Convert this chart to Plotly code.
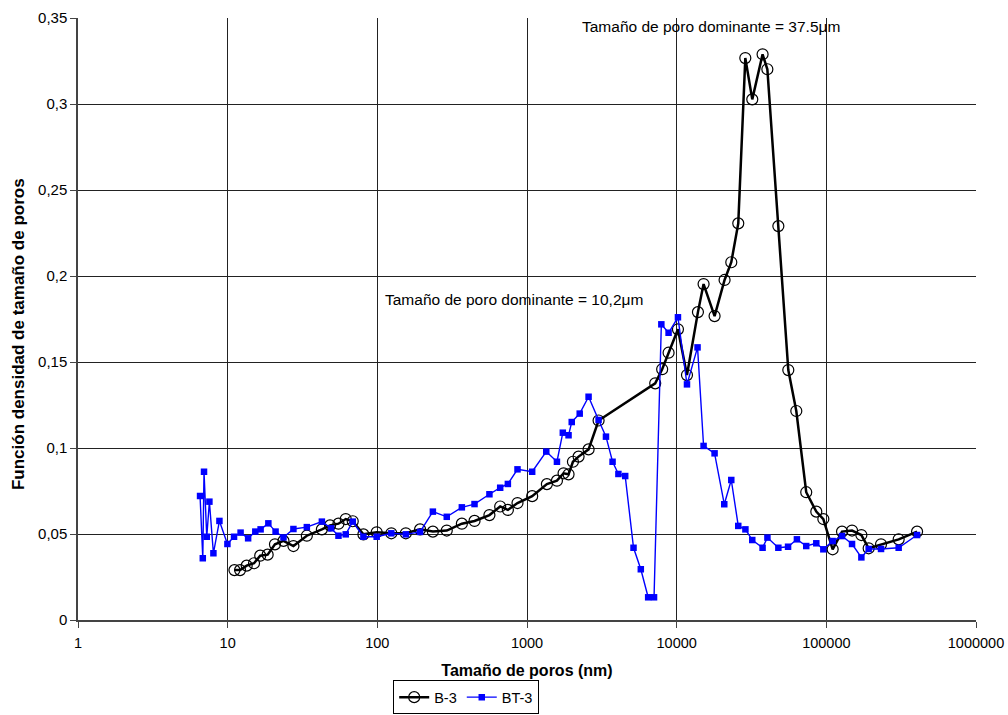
import plotly.graph_objects as go

# Pore size distribution: density function vs pore size (nm), log scale
b3_size_nm = [11.1, 12.1, 13.4, 15.0, 16.5, 18.5, 20.7, 23.6, 27.5, 33.8, 42.6, 48.3, 55.0,
              61.5, 68.5, 80.7, 99, 124, 155, 193, 235, 291, 367, 446, 561, 662, 745, 864,
              1083, 1358, 1585, 1755, 1895, 2027, 2211, 2579, 3008, 7190, 8000, 8830, 10200,
              11720, 13870, 15130, 17920, 20900, 23170, 25800, 28750, 32000, 37500, 40360,
              47800, 55700, 63000, 73400, 85700, 95500, 110200, 127300, 148500, 171400,
              191800, 232000, 304300, 403900]
b3_density = [0.029, 0.029, 0.0316, 0.033, 0.0374, 0.038, 0.044, 0.046, 0.043, 0.049, 0.0527,
              0.055, 0.056, 0.0587, 0.0574, 0.0498, 0.051, 0.0504, 0.0504, 0.0527, 0.0514,
              0.052, 0.056, 0.0576, 0.061, 0.066, 0.064, 0.068, 0.072, 0.079, 0.081, 0.0853,
              0.0847, 0.092, 0.095, 0.0992, 0.116, 0.1376, 0.1458, 0.1554, 0.169, 0.1424,
              0.179, 0.1953, 0.1767, 0.1977, 0.208, 0.2306, 0.3267, 0.3027, 0.3289, 0.3202,
              0.229, 0.1453, 0.1215, 0.0743, 0.063, 0.0587, 0.0411, 0.0514, 0.052, 0.0494,
              0.0417, 0.044, 0.0469, 0.0514]

bt3_size_nm = [6.54, 6.82, 6.95, 7.25, 7.55, 8.03, 8.81, 9.96, 11.03, 12.2, 13.7, 15.3, 16.6,
               18.7, 20.9, 23.6, 27.5, 33.8, 42.6, 49.1, 55.0, 61.5, 68.5, 80.7, 99, 124, 155,
               193, 235, 291, 367, 446, 561, 662, 745, 864, 1083, 1345, 1585, 1735, 1895,
               1990, 2250, 2579, 3008, 3370, 3730, 4080, 4530, 5150, 5760, 6450, 7060, 7900,
               8830, 10200, 11720, 13790, 15130, 17920, 20800, 23170, 25800, 28800, 32000,
               37500, 40400, 47800, 55500, 63600, 73400, 85700, 95500, 110200, 127300,
               148500, 171400, 191800, 232000, 304300, 403900]
bt3_density = [0.0721, 0.0359, 0.0862, 0.0484, 0.0688, 0.0388, 0.0576, 0.0442, 0.0484, 0.0508,
               0.0475, 0.0514, 0.0527, 0.0562, 0.0514, 0.048, 0.0529, 0.054, 0.0572, 0.0533,
               0.049, 0.0498, 0.0572, 0.0484, 0.0484, 0.0504, 0.0498, 0.0512, 0.063, 0.060,
               0.0655, 0.0674, 0.0731, 0.0769, 0.0791, 0.0876, 0.0862, 0.0979, 0.092, 0.1089,
               0.1074, 0.1151, 0.12, 0.1298, 0.1163, 0.1066, 0.092, 0.0849, 0.0837, 0.042,
               0.0295, 0.0132, 0.0132, 0.1719, 0.167, 0.176, 0.137, 0.1585, 0.1012, 0.0969,
               0.0673, 0.0814, 0.0547, 0.0527, 0.0465, 0.042, 0.0479, 0.042, 0.0426, 0.0469,
               0.043, 0.0446, 0.0411, 0.0459, 0.0488, 0.0442, 0.0364, 0.0413, 0.0413, 0.042,
               0.0494]

x_tick_vals = [1, 10, 100, 1000, 10000, 100000, 1000000]
x_tick_text = ["1", "10", "100", "1000", "10000", "100000", "1000000"]
y_tick_vals = [0, 0.05, 0.1, 0.15, 0.2, 0.25, 0.3, 0.35]
y_tick_text = ["0", "0,05", "0,1", "0,15", "0,2", "0,25", "0,3", "0,35"]

FONT = "Liberation Sans, Arial, sans-serif"

fig = go.Figure()
fig.add_trace(go.Scatter(
    x=b3_size_nm, y=b3_density, name="B-3", mode="lines+markers",
    line=dict(color="black", width=2.5),
    marker=dict(symbol="circle-open", size=11, color="black", line=dict(width=1.2)),
))
fig.add_trace(go.Scatter(
    x=bt3_size_nm, y=bt3_density, name="BT-3", mode="lines+markers",
    line=dict(color="#0000FF", width=1.4),
    marker=dict(symbol="square", size=6.5, color="#0000FF"),
))

# dominant pore size notes
fig.add_annotation(x=3.356, y=0.3448, xref="x", yref="y", xanchor="left", yanchor="middle",
                   text="Tamaño de poro dominante = 37.5μm", showarrow=False,
                   font=dict(family=FONT, size=15.5, color="black"))
fig.add_annotation(x=2.039, y=0.1866, xref="x", yref="y", xanchor="left", yanchor="middle",
                   text="Tamaño de poro dominante = 10,2μm", showarrow=False,
                   font=dict(family=FONT, size=15.5, color="black"))

# vertical axis title, placed beside the tick labels
fig.add_annotation(x=-0.0668, y=0.475, xref="paper", yref="paper",
                   xanchor="center", yanchor="middle", textangle=-90,
                   text="<b>Función densidad de tamaño de poros</b>", showarrow=False,
                   font=dict(family=FONT, size=17, color="black"))

fig.update_layout(
    width=1008, height=715,
    margin=dict(l=78, r=32, t=18, b=95, autoexpand=False),
    paper_bgcolor="white", plot_bgcolor="white",
    font=dict(family=FONT, size=15, color="black"),
    showlegend=True,
    legend=dict(orientation="h", x=0.351, y=-0.1, xanchor="left", yanchor="top",
                bordercolor="black", borderwidth=1, bgcolor="white",
                font=dict(family=FONT, size=14.5, color="black"),
                itemwidth=30, tracegroupgap=0),
    xaxis=dict(
        type="log", range=[0, 6], automargin=False,
        tickvals=x_tick_vals, ticktext=x_tick_text,
        ticks="outside", ticklen=6, tickcolor="#444", ticklabelstandoff=3,
        showgrid=True, gridcolor="#222", gridwidth=1,
        showline=True, linecolor="#444", linewidth=1.5,
        zeroline=False,
        tickfont=dict(family=FONT, size=14.5, color="black"),
        title=dict(text="<b>Tamaño de poros (nm)</b>", standoff=15,
                   font=dict(family=FONT, size=16, color="black")),
    ),
    yaxis=dict(
        range=[0, 0.35], automargin=False,
        tickvals=y_tick_vals, ticktext=y_tick_text,
        ticks="outside", ticklen=6, tickcolor="#444",
        showgrid=True, gridcolor="#222", gridwidth=1,
        showline=True, linecolor="#444", linewidth=1.5,
        zeroline=False,
        tickfont=dict(family=FONT, size=15, color="black"),
    ),
)

fig.write_html("out.html")
